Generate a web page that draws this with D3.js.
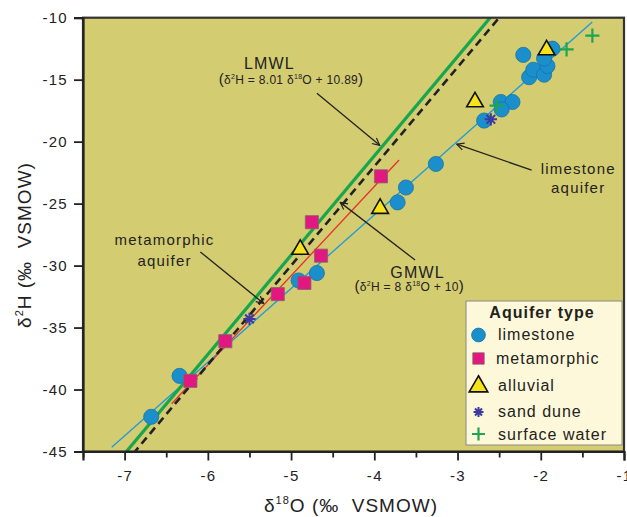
<!DOCTYPE html>
<html>
<head>
<meta charset="utf-8">
<script src="https://cdn.jsdelivr.net/npm/d3@7"></script>
<style>
body { margin: 0; background: #fff; }
text { font-family: "Liberation Sans", Arial, sans-serif; fill: #222; }
</style>
</head>
<body>
<div id="chart"></div>
<script>
// samples
let limestoneO = [-6.68, -6.34, -4.91, -4.69, -3.72, -3.62, -3.26, -2.68, -2.48, -2.34, -2.47, -2.21, -2.14, -2.09, -1.96, -1.92, -1.96, -1.86];
let limestoneH = [-42.2, -38.9, -31.2, -30.6, -24.9, -23.7, -21.8, -18.3, -16.8, -16.8, -17.4, -13.0, -14.8, -14.2, -14.6, -13.9, -13.3, -12.5];
let metamorphicO = [-6.21, -5.79, -5.16, -4.84, -4.64, -4.75, -3.92];
let metamorphicH = [-39.3, -36.1, -32.3, -31.4, -29.2, -26.5, -22.8];
let alluvialO = [-4.89, -3.93, -2.79, -1.93];
let alluvialH = [-28.7, -25.4, -16.8, -12.6];
let sandDuneO = [-5.50, -2.60];
let sandDuneH = [-34.3, -18.2];
let surfaceO = [-2.53, -1.69, -1.38];
let surfaceH = [-17.1, -12.55, -11.45];

// lines: slope, intercept, x extent
let lmwl = [8.01, 10.89, -7.5, -1];
let gmwl = [8, 10, -7.5, -1];
let metaFit = [7.2, 5.18, -6.435, -3.703];
let limeFit = [5.94, -2.15, -7.155, -1.381];

let xTicks = [-7, -6, -5, -4, -3, -2, -1];
let xMinor = [-7.5, -6.5, -5.5, -4.5, -3.5, -2.5, -1.5];
let yTicks = [-45, -40, -35, -30, -25, -20, -15, -10];

let svg, x, y;
let plot = { left: 83, right: 624, top: 17.7, bottom: 451.5 };

//
//	custom symbols
//
let plusSymbol = {
	draw: function (ctx, size) {
		let r = Math.sqrt(size) / 2;
		ctx.moveTo(-r, 0); ctx.lineTo(r, 0);
		ctx.moveTo(0, -r); ctx.lineTo(0, r);
	}
};
let starSymbol = {
	draw: function (ctx, size) {
		let r = Math.sqrt(size) / 2;
		for (let i = 0; i < 4; i++) {
			let a = i * Math.PI / 4;
			ctx.moveTo(-r * Math.cos(a), -r * Math.sin(a));
			ctx.lineTo(r * Math.cos(a), r * Math.sin(a));
		}
	}
};

let series = [
	{ name: "limestone", o: limestoneO, h: limestoneH, type: d3.symbolCircle, size: 180, fill: "#1a8fcc", stroke: "#1673a6", sw: 0.8 },
	{ name: "metamorphic", o: metamorphicO, h: metamorphicH, type: d3.symbolSquare, size: 172, fill: "#e2177f", stroke: "#7d6470", sw: 0.8 },
	{ name: "alluvial", o: alluvialO, h: alluvialH, type: d3.symbolTriangle, size: 120, fill: "#f7e31a", stroke: "#111", sw: 1.6 },
	{ name: "sand dune", o: sandDuneO, h: sandDuneH, type: starSymbol, size: 150, fill: "none", stroke: "#3c3aa0", sw: 2 },
	{ name: "surface water", o: surfaceO, h: surfaceH, type: plusSymbol, size: 200, fill: "none", stroke: "#1ea552", sw: 2.2 }
];

initChart = function () {
	svg = d3.select("#chart").append("svg").attr("width", 627).attr("height", 517);

	x = d3.scaleLinear().domain([-7.5, -1]).range([plot.left, plot.right]);
	y = d3.scaleLinear().domain([-45, -10]).range([plot.bottom, plot.top]);

	let defs = svg.append("defs");
	defs.append("clipPath").attr("id", "clip").append("rect")
		.attr("x", plot.left).attr("y", plot.top)
		.attr("width", plot.right - plot.left).attr("height", plot.bottom - plot.top);
	defs.append("marker").attr("id", "arrow")
		.attr("viewBox", "0 0 10 10").attr("refX", 9).attr("refY", 5)
		.attr("markerWidth", 9).attr("markerHeight", 9)
		.attr("markerUnits", "userSpaceOnUse").attr("orient", "auto")
		.append("path").attr("d", "M1,1 L9,5 L1,9")
		.attr("fill", "none").attr("stroke", "#222").attr("stroke-width", 1.3);

	svg.append("rect")
		.attr("x", plot.left).attr("y", plot.top)
		.attr("width", plot.right - plot.left).attr("height", plot.bottom - plot.top)
		.attr("fill", "#d4cc71");
};

drawLines = function () {
	let g = svg.append("g").attr("clip-path", "url(#clip)");
	let line = d3.line().x((d) => x(d[0])).y((d) => y(d[1]));
	let ends = (p) => [[p[2], p[0] * p[2] + p[1]], [p[3], p[0] * p[3] + p[1]]];

	g.append("path").attr("d", line(ends(limeFit))).attr("stroke", "#1c9ad8").attr("stroke-width", 1.3).attr("fill", "none");
	g.append("path").attr("d", line(ends(metaFit))).attr("stroke", "#e8302a").attr("stroke-width", 1.3).attr("fill", "none");
	g.append("path").attr("d", line(ends(gmwl))).attr("stroke", "#222").attr("stroke-width", 2.6)
		.attr("stroke-dasharray", "8,5").attr("fill", "none");
	g.append("path").attr("d", line(ends(lmwl))).attr("stroke", "#17a64e").attr("stroke-width", 3.2).attr("fill", "none");
};

drawPoints = function () {
	series.forEach((s) => {
		let pts = s.o.map((v, i) => [v, s.h[i]]);
		svg.append("g").selectAll("path").data(pts).enter().append("path")
			.attr("transform", (d) => "translate(" + x(d[0]) + "," + y(d[1]) + ")")
			.attr("d", d3.symbol().type(s.type).size(s.size))
			.attr("fill", s.fill).attr("stroke", s.stroke).attr("stroke-width", s.sw);
	});
};

drawAxes = function () {
	// frame
	svg.append("rect")
		.attr("x", plot.left).attr("y", plot.top)
		.attr("width", plot.right - plot.left).attr("height", plot.bottom - plot.top)
		.attr("fill", "none").attr("stroke", "#333").attr("stroke-width", 2.2);

	let xa = svg.append("g").attr("transform", "translate(0," + plot.bottom + ")")
		.call(d3.axisBottom(x).tickValues(xTicks).tickSize(9).tickPadding(10).tickFormat(d3.format("d")));
	svg.append("g").attr("transform", "translate(0," + plot.bottom + ")")
		.call(d3.axisBottom(x).tickValues(xMinor).tickSize(6).tickFormat(""))
		.select(".domain").remove();
	let ya = svg.append("g").attr("transform", "translate(" + plot.left + ",0)")
		.call(d3.axisLeft(y).tickValues(yTicks).tickSize(9).tickPadding(6).tickFormat(d3.format("d")));

	svg.selectAll(".tick line").attr("stroke", "#222").attr("stroke-width", 1.8);
	svg.selectAll(".domain").attr("stroke", "#222").attr("stroke-width", 2.2);
	[xa, ya].forEach((a) => a.selectAll(".tick text")
		.style("font-family", "Liberation Sans, Arial, sans-serif")
		.style("font-size", "15px").style("letter-spacing", "1.3px").attr("fill", "#222")
		.text((d) => "-" + Math.abs(d)));

	// axis titles
	let xt = svg.append("text").attr("x", 351).attr("y", 512).attr("text-anchor", "middle")
		.style("font-size", "19px").style("letter-spacing", "1px");
	xt.append("tspan").text("δ");
	xt.append("tspan").attr("font-size", "11px").attr("dy", -8).text("18");
	xt.append("tspan").attr("dy", 8).text("O (‰\u00a0\u00a0VSMOW)");

	let yt = svg.append("text").attr("transform", "translate(31,245) rotate(-90)").attr("text-anchor", "middle")
		.style("font-size", "19px").style("letter-spacing", "1px");
	yt.append("tspan").text("δ");
	yt.append("tspan").attr("font-size", "11px").attr("dy", -8).text("2");
	yt.append("tspan").attr("dy", 8).text("H (‰\u00a0\u00a0VSMOW)");
};

// annotation anchors, in data units
let annoArrows = [
	[[-4.69, -16.1], [-3.935, -20.3]],
	[[-3.51, -29.55], [-4.41, -24.9]],
	[[-2.11, -22.3], [-3.01, -20.2]],
	[[-6.09, -28.9], [-5.33, -33.05]]
];

equation = function (cx, cy, a, b) {
	let t = svg.append("text").attr("x", x(cx)).attr("y", y(cy)).attr("text-anchor", "middle")
		.style("font-size", "12px").style("letter-spacing", "0.3px");
	t.append("tspan").style("font-size", "15px").text("(");
	t.append("tspan").text("δ");
	t.append("tspan").style("font-size", "7px").attr("dy", -5).text("2");
	t.append("tspan").attr("dy", 5).text("H = " + a + " δ");
	t.append("tspan").style("font-size", "7px").attr("dy", -5).text("18");
	t.append("tspan").attr("dy", 5).text("O + " + b);
	t.append("tspan").style("font-size", "15px").text(")");
};

drawAnnotations = function () {
	annoArrows.forEach((a) => {
		svg.append("line")
			.attr("x1", x(a[0][0])).attr("y1", y(a[0][1]))
			.attr("x2", x(a[1][0])).attr("y2", y(a[1][1]))
			.attr("stroke", "#222").attr("stroke-width", 1.3).attr("marker-end", "url(#arrow)");
	});

	let label = (cx, cy, s, size) => svg.append("text").attr("x", x(cx)).attr("y", y(cy))
		.attr("text-anchor", "middle").style("font-size", size + "px").style("letter-spacing", "1.2px").text(s);

	label(-5.26, -14.1, "LMWL", 16);
	equation(-5.0, -15.35, "8.01", "10.89");
	label(-3.48, -31.0, "GMWL", 16);
	equation(-3.58, -32.05, "8", "10");
	label(-1.55, -22.6, "limestone", 15);
	label(-1.55, -24.15, "aquifer", 15);
	label(-6.52, -28.35, "metamorphic", 15);
	label(-6.52, -30.05, "aquifer", 15);
};

drawLegend = function () {
	let g = svg.append("g").attr("transform", "translate(466,301)");
	g.append("rect").attr("width", 156).attr("height", 144)
		.attr("fill", "#fdf8d9").attr("stroke", "#8a8a80").attr("stroke-width", 1);
	g.append("text").attr("x", 76).attr("y", 16.5).attr("text-anchor", "middle")
		.style("font-size", "16px").style("font-weight", "bold").style("letter-spacing", "1px")
		.text("Aquifer type");

	let rowY = [34, 57.5, 85.5, 111, 133];
	let textY = [38.5, 63, 89.5, 115.5, 139];
	let sizes = [150, 130, 150, 100, 170];
	series.forEach((s, i) => {
		g.append("path").attr("transform", "translate(12.5," + rowY[i] + ")")
			.attr("d", d3.symbol().type(s.type).size(sizes[i])())
			.attr("fill", s.fill).attr("stroke", s.stroke).attr("stroke-width", s.sw);
		g.append("text").attr("x", i == 1 ? 30 : 32).attr("y", textY[i])
			.style("font-size", "16px").style("letter-spacing", "1px").text(s.name);
	});
};

initChart();
drawLines();
drawPoints();
drawAxes();
drawAnnotations();
drawLegend();
</script>
</body>
</html>
